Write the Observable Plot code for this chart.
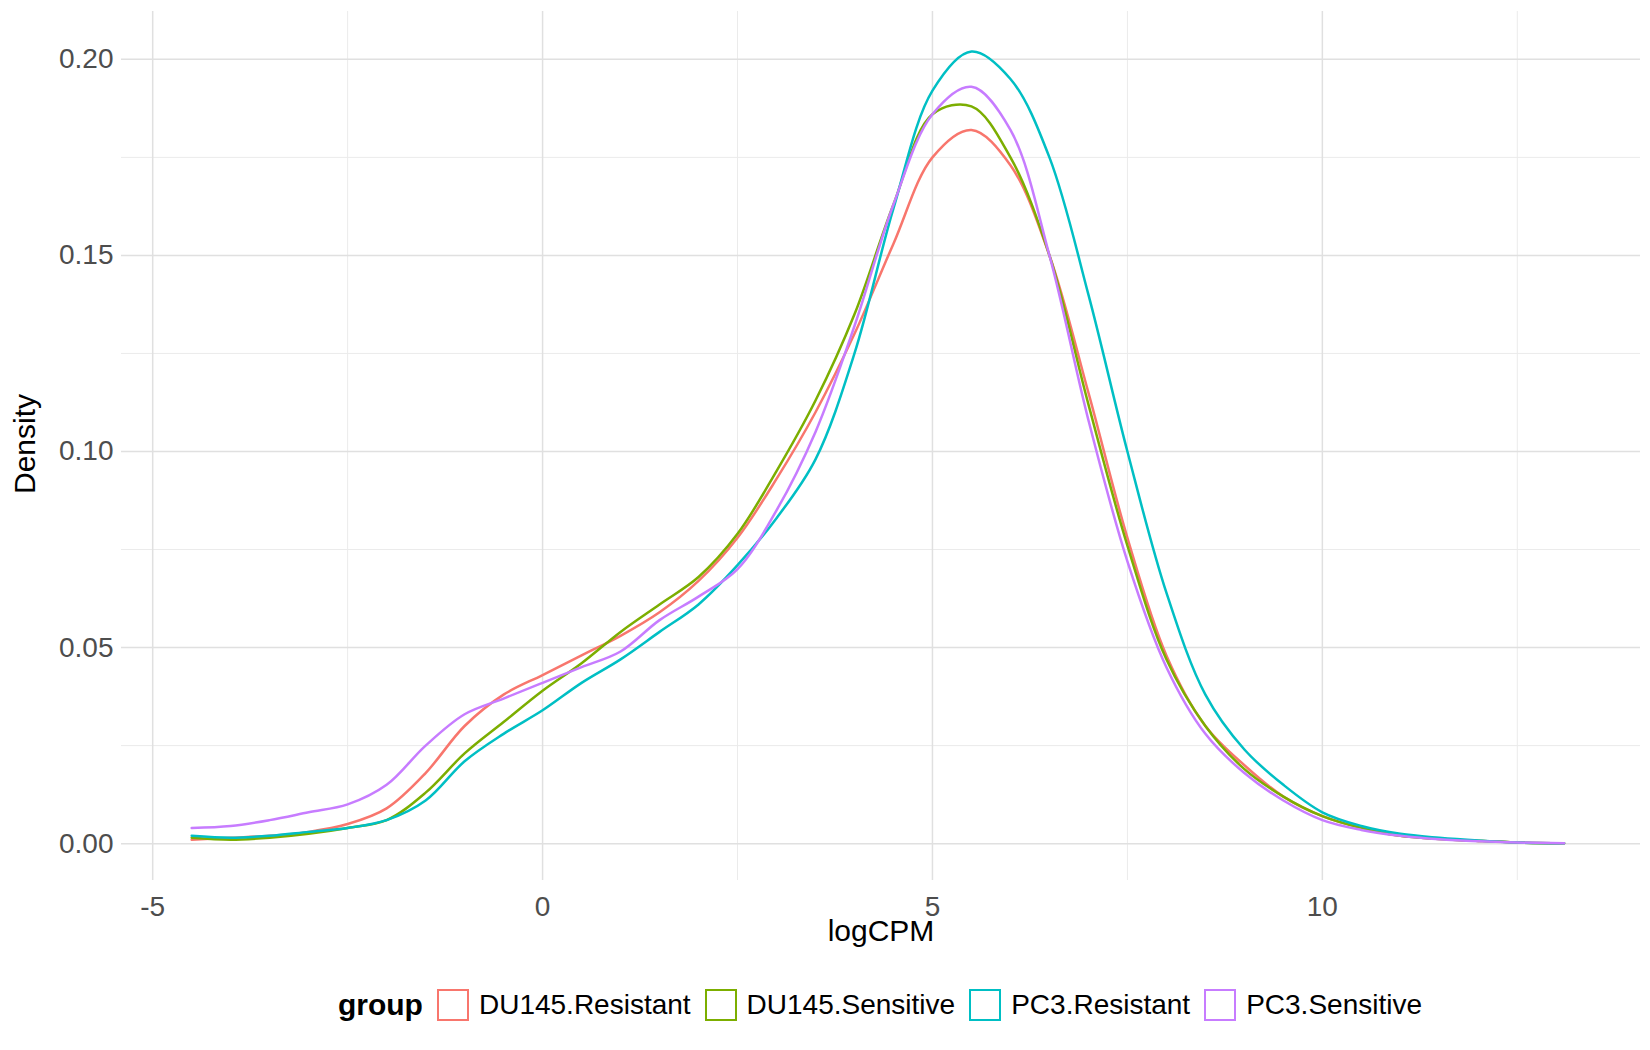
<!DOCTYPE html>
<html><head><meta charset="utf-8">
<script src="https://cdn.jsdelivr.net/npm/d3@7"></script>
<script src="https://cdn.jsdelivr.net/npm/@observablehq/plot@0.6"></script>
<style>
body{margin:0;background:#fff;font-family:"Liberation Sans",Arial,sans-serif;}
#legend{display:flex;justify-content:center;align-items:center;height:70px;font-size:28px;margin-left:110px;margin-top:10px}
.item{display:flex;align-items:center;margin-left:14px}
.sw{width:32px;height:32px;border:2px solid;box-sizing:border-box;margin-right:10px;background:#fff}
</style></head><body>
<div id="chart"></div>
<div id="legend"><b style="font-size:30px">group</b></div>
<script>
const xs = [-4.5,-4,-3.5,-3,-2.5,-2,-1.5,-1,-0.5,0,0.5,1,1.5,2,2.5,3,3.5,4,4.5,5,5.5,6,6.5,7,7.5,8,8.5,9,9.5,10,10.5,11,11.5,12,12.5,13.1];
const groups = ["DU145.Resistant","DU145.Sensitive","PC3.Resistant","PC3.Sensitive"];
const colors = ["#F8766D","#7CAE00","#00BFC4","#C77CFF"];
const du145Res = [0.001,0.0015,0.002,0.003,0.005,0.009,0.018,0.030,0.038,0.043,0.048,0.053,0.059,0.067,0.078,0.093,0.110,0.130,0.153,0.175,0.182,0.173,0.150,0.115,0.078,0.048,0.030,0.020,0.012,0.007,0.004,0.002,0.0012,0.0007,0.0003,0.0001];
const du145Sen = [0.0015,0.001,0.0015,0.0025,0.004,0.006,0.013,0.023,0.031,0.039,0.046,0.054,0.061,0.068,0.079,0.095,0.113,0.135,0.163,0.186,0.188,0.175,0.150,0.112,0.076,0.047,0.030,0.019,0.012,0.007,0.004,0.002,0.0012,0.0007,0.0003,0.0001];
const pc3Res = [0.002,0.0015,0.002,0.003,0.004,0.006,0.011,0.021,0.028,0.034,0.041,0.047,0.054,0.061,0.071,0.083,0.098,0.125,0.162,0.192,0.202,0.195,0.175,0.140,0.100,0.064,0.038,0.024,0.015,0.008,0.0045,0.0025,0.0015,0.0008,0.0003,0.0001];
const pc3Sen = [0.004,0.0045,0.006,0.008,0.010,0.015,0.025,0.033,0.037,0.041,0.045,0.049,0.057,0.063,0.070,0.085,0.105,0.132,0.163,0.186,0.193,0.182,0.150,0.108,0.072,0.045,0.028,0.018,0.011,0.006,0.0035,0.002,0.0011,0.0006,0.0003,0.0001];
const series = [du145Res,du145Sen,pc3Res,pc3Sen];
const data = [];
series.forEach((s,i)=>s.forEach((v,j)=>data.push({group:groups[i],x:xs[j],y:v})));
const plot = Plot.plot({
  width:1650,height:960,marginLeft:121,marginRight:10,marginTop:11,marginBottom:80,
  style:{fontFamily:"Liberation Sans, Arial, sans-serif",fontSize:"28px",background:"#fff"},
  x:{domain:[-5.40,14.08]},
  y:{domain:[-0.0094,0.2122]},
  color:{domain:groups,range:colors},
  marks:[
    Plot.ruleX([-2.5,2.5,7.5,12.5],{stroke:"#ebebeb",strokeWidth:1}),
    Plot.ruleY([0.025,0.075,0.125,0.175],{stroke:"#ebebeb",strokeWidth:1}),
    Plot.ruleX([-5,0,5,10],{stroke:"#e0e0e0",strokeWidth:1.5}),
    Plot.ruleY([0,0.05,0.1,0.15,0.2],{stroke:"#e0e0e0",strokeWidth:1.5}),
    Plot.line(data,{x:"x",y:"y",stroke:"group",z:"group",curve:"catmull-rom",strokeWidth:2.5}),
    Plot.axisX({ticks:[-5,0,5,10],tickFormat:d=>String(d),tickSize:0,tickPadding:16,fill:"#4d4d4d",fontSize:28,label:null}),
    Plot.axisY({ticks:[0,0.05,0.1,0.15,0.2],tickFormat:d3.format(".2f"),tickSize:0,tickPadding:8,fill:"#4d4d4d",fontSize:28,label:null}),
    Plot.text(["logCPM"],{frameAnchor:"bottom",dy:60,fontSize:30,fill:"#000"}),
    Plot.text(["Density"],{frameAnchor:"left",dx:-96,dy:48,rotate:-90,fontSize:30,fill:"#000"})
  ]
});
plot.style.overflow="visible";
document.getElementById("chart").append(plot);
const lg=document.getElementById("legend");
groups.forEach((g,i)=>{const d=document.createElement("div");d.className="item";d.innerHTML=`<div class="sw" style="border-color:${colors[i]}"></div>${g}`;lg.append(d);});
</script></body></html>
